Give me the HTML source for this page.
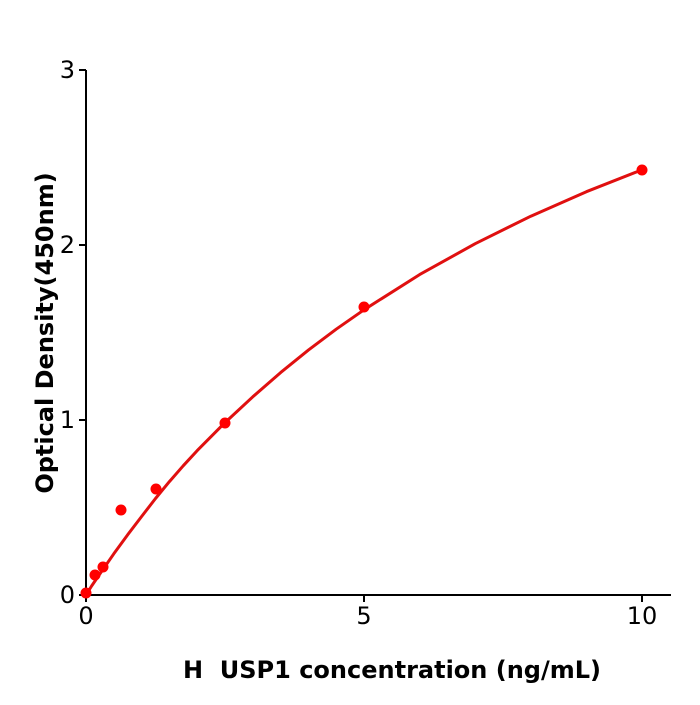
<!DOCTYPE html>
<html><head><meta charset="utf-8"><style>
html,body{margin:0;padding:0;background:#fff;}
</style></head><body>
<svg width="700" height="700" xmlns="http://www.w3.org/2000/svg" font-family="'DejaVu Sans','Liberation Sans',sans-serif">
<rect width="700" height="700" fill="#fff"/>
<g stroke="#000" stroke-width="2" fill="none">
<line x1="86" y1="70" x2="86" y2="596"/>
<line x1="85" y1="595" x2="671" y2="595"/>
<line x1="79" y1="595" x2="86" y2="595"/>
<line x1="79" y1="420" x2="86" y2="420"/>
<line x1="79" y1="245" x2="86" y2="245"/>
<line x1="79" y1="70" x2="86" y2="70"/>
<line x1="86" y1="595" x2="86" y2="602"/>
<line x1="364" y1="595" x2="364" y2="602"/>
<line x1="642" y1="595" x2="642" y2="602"/>
</g>
<g font-size="24" fill="#000">
<text x="75" y="603" text-anchor="end">0</text>
<text x="75" y="428" text-anchor="end">1</text>
<text x="75" y="253" text-anchor="end">2</text>
<text x="75" y="78" text-anchor="end">3</text>
<text x="86" y="624" text-anchor="middle">0</text>
<text x="364" y="624" text-anchor="middle">5</text>
<text x="642" y="624" text-anchor="middle">10</text>
</g>
<text x="392" y="678" font-size="24" font-weight="bold" text-anchor="middle" xml:space="preserve">H  USP1 concentration (ng/mL)</text>
<text transform="translate(53,333) rotate(-90)" font-size="24" font-weight="bold" text-anchor="middle">Optical Density(450nm)</text>
<polyline fill="none" stroke="#e01010" stroke-width="3" stroke-linejoin="round" points="86,595 91.6,586 99.9,573.9 113.8,553.8 127.7,534.7 141.6,516.5 155.5,498.5 169.4,481.6 183.3,465.7 197.2,450.6 225,422.6 252.8,396.8 280.6,372.6 308.4,350.1 336.2,329.2 364,309.8 419.6,274.6 475.2,243.7 530.8,216.2 586.4,191.7 642,169.8"/>
<g fill="#f00">
<circle cx="86" cy="593" r="5.5"/>
<circle cx="95" cy="575" r="5.5"/>
<circle cx="103" cy="567" r="5.5"/>
<circle cx="121" cy="510" r="5.5"/>
<circle cx="156" cy="489" r="5.5"/>
<circle cx="225" cy="423" r="5.5"/>
<circle cx="364" cy="307" r="5.5"/>
<circle cx="642" cy="170" r="5.5"/>
</g>
</svg>
</body></html>
